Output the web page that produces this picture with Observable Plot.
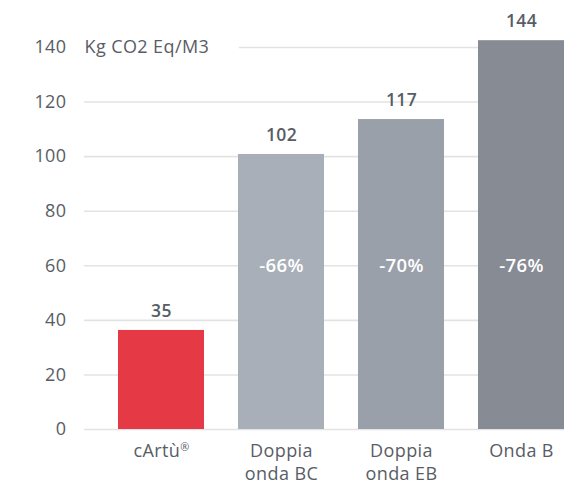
<!DOCTYPE html>
<html>
<head>
<meta charset="utf-8">
<script src="https://cdn.jsdelivr.net/npm/d3@7"></script>
<script src="https://cdn.jsdelivr.net/npm/@observablehq/plot@0.6"></script>
<style>
  html, body { margin: 0; padding: 0; background: #fff; }
  #chart { width: 579px; height: 487px; }
  #chart svg text { letter-spacing: 0.4px; }
</style>
</head>
<body>
<div id="chart"></div>
<script>
const categories = ["cArtù®", "Doppia onda BC", "Doppia onda EB", "Onda B"];
const tickLabels = ["cArtù®", "Doppia\nonda BC", "Doppia\nonda EB", "Onda B"];
const barValues = [36.3, 100.8, 113.6, 142.5];
const valueLabels = ["35", "102", "117", "144"];
const reductionLabels = ["", "-66%", "-70%", "-76%"];
const barColors = ["#e63946", "#a9afb8", "#9aa0aa", "#878b94"];
const yTicks = [0, 20, 40, 60, 80, 100, 120, 140];
const unitLabel = "Kg CO2 Eq/M3";

const data = categories.map((c, i) => ({
  cat: c, value: barValues[i], label: valueLabels[i], red: reductionLabels[i], color: barColors[i]
}));

const textColor = "#585d65";
const fontFamily = "'Open Sans', sans-serif";

const chart = Plot.plot({
  width: 579,
  height: 487,
  marginTop: 47,
  marginBottom: 58,
  marginLeft: 84,
  marginRight: 15,
  style: { fontFamily, fontSize: "18px", color: textColor, background: "#fff" },
  x: { type: "band", domain: categories, paddingInner: 0.285, paddingOuter: 0.137, align: 1 },
  y: { domain: [0, 140], nice: false },
  marks: [
    Plot.ruleY(yTicks, { stroke: "#e3e3e3", strokeWidth: 1.6 }),
    Plot.text([unitLabel], {
      frameAnchor: "left", y: () => 140, text: d => d, textAnchor: "start",
      fill: textColor, fontSize: 18, stroke: "white", strokeWidth: 62, strokeOpacity: 1
    }),
    Plot.barY(data, { x: "cat", y: "value", fill: "color" }),
    Plot.text(data, {
      x: "cat", y: "value", text: "label", dy: -19,
      fill: textColor, fontWeight: 600, fontSize: 17.5
    }),
    Plot.text(data, {
      x: "cat", y: () => 60, text: "red",
      fill: "white", fontSize: 18.5, fontWeight: 600
    }),
    Plot.axisY({
      ticks: yTicks, tickSize: 0, tickPadding: 18, label: null,
      fontSize: 18, fill: textColor
    }),
    Plot.axisX({
      tickSize: 0, tickPadding: 11, label: null, fontSize: 18, fill: textColor,
      tickFormat: d => tickLabels[categories.indexOf(d)], lineHeight: 1.28
    })
  ]
});

document.getElementById("chart").appendChild(chart);

// render the registered mark as a superscript
d3.select(chart).selectAll("text").each(function() {
  const t = d3.select(this);
  const tspans = t.selectAll("tspan");
  const target = tspans.empty() ? t : tspans;
  target.each(function() {
    const el = d3.select(this);
    if (this.childNodes.length === 1 && this.firstChild.nodeType === 3 && this.textContent.includes("®")) {
      const s = this.textContent.replace("®", "");
      el.text(s);
      el.append("tspan").attr("font-size", "0.6em").attr("dy", "-0.55em").text("®");
    }
  });
});
</script>
</body>
</html>
